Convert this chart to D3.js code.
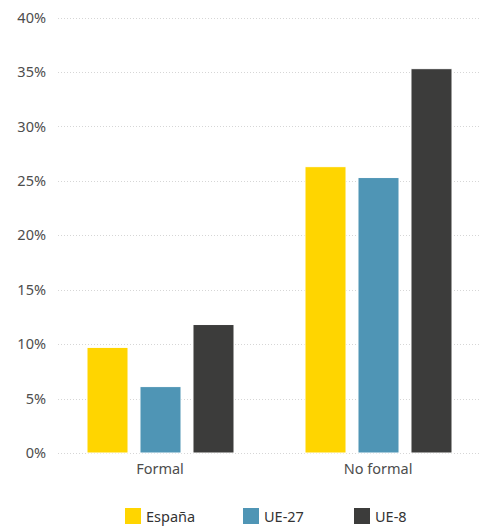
<!DOCTYPE html>
<html>
<head>
<meta charset="utf-8">
<script src="https://cdn.jsdelivr.net/npm/d3@7"></script>
<style>
  body { margin: 0; background: #fff; }
  text { font-family: "Noto Sans", sans-serif; }
</style>
</head>
<body>
<div id="chart"></div>
<script>
  var categories = ["Formal", "No formal"];
  var series = ["España", "UE-27", "UE-8"];
  var espana = [9.7, 26.3];
  var ue27 = [6.1, 25.3];
  var ue8 = [11.8, 35.3];
  var yTicks = [0, 5, 10, 15, 20, 25, 30, 35, 40];
  var colors = ["#ffd500", "#4f95b5", "#3c3c3b"];

  var width = 480, height = 527;
  var values = [espana, ue27, ue8];

  var svg = d3.select("#chart").append("svg")
    .attr("width", width)
    .attr("height", height);

  var y = d3.scaleLinear().domain([0, 40]).range([453, 17.5]);
  var x0 = d3.scaleBand().domain(categories).range([51, 487]);
  var x1 = d3.scaleBand().domain(series).range([-73, 74]).paddingInner(0.226);

  // grid
  svg.append("g").selectAll("line").data(yTicks).enter().append("line")
    .attr("x1", 58).attr("x2", width)
    .attr("y1", function(d){ return Math.round(y(d)) + 0.5; })
    .attr("y2", function(d){ return Math.round(y(d)) + 0.5; })
    .style("stroke", "#d6d6d6")
    .style("stroke-width", 1)
    .style("stroke-dasharray", "1,2");

  // y axis
  var yAxis = d3.axisLeft(y).tickValues(yTicks)
    .tickFormat(function(d){ return d + "%"; })
    .tickSize(0).tickPadding(0);
  var ya = svg.append("g").attr("transform", "translate(46,0)").call(yAxis);
  ya.select(".domain").remove();
  ya.selectAll("text").style("font-size", "14.5px").style("fill", "#4d4d4d")
    .style("font-family", "Noto Sans, sans-serif");

  // x axis
  var xAxis = d3.axisBottom(x0).tickSize(0).tickPadding(0);
  var xa = svg.append("g").attr("transform", "translate(0,464)").call(xAxis);
  xa.select(".domain").remove();
  xa.selectAll("text").style("font-size", "14.5px").style("fill", "#4d4d4d")
    .style("font-family", "Noto Sans, sans-serif");

  // bars
  var groups = svg.selectAll(".grp").data(categories).enter().append("g")
    .attr("class", "grp")
    .attr("transform", function(d){ return "translate(" + (x0(d) + x0.bandwidth() / 2) + ",0)"; });

  groups.selectAll("rect").data(function(d, i){
      return series.map(function(s, j){ return { s: s, v: values[j][i], c: colors[j] }; });
    }).enter().append("rect")
    .attr("x", function(d){ return x1(d.s); })
    .attr("width", x1.bandwidth())
    .attr("y", function(d){ return y(d.v); })
    .attr("height", function(d){ return y(0) - y(d.v); })
    .style("fill", function(d){ return d.c; })
    .style("stroke", "#fff")
    .style("stroke-width", 1);

  // legend (kept fully inside the window)
  var legX = [125, 243, 354];
  var leg = svg.selectAll(".leg").data(series).enter().append("g")
    .attr("class", "leg")
    .attr("transform", function(d, i){ return "translate(" + legX[i] + ",508)"; });
  leg.append("rect").attr("width", 16).attr("height", 16)
    .style("fill", function(d, i){ return colors[i]; });
  leg.append("text").attr("x", 21).attr("y", 13.5)
    .text(function(d){ return d; })
    .style("font-size", "14.5px").style("fill", "#333");
</script>
</body>
</html>
